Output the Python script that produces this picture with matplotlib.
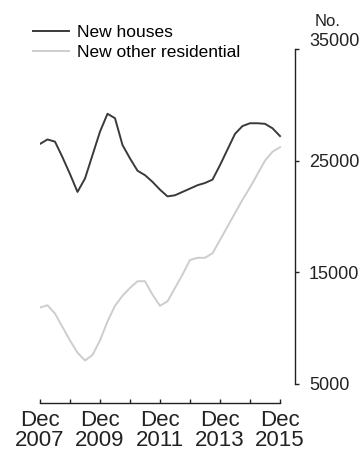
import numpy as np
import matplotlib.pyplot as plt
import matplotlib.transforms as mtransforms

plt.rcParams['font.family'] = ['Liberation Sans', 'DejaVu Sans']

# quarterly, Dec 2007 .. Dec 2015 (trend, number of dwellings)
quarter_index = np.arange(33)
new_houses = [26500, 26900, 26700, 25300, 23800, 22200, 23400, 25500, 27600,
              29200, 28800, 26400, 25200, 24100, 23700, 23100, 22400, 21800,
              21900, 22200, 22500, 22800, 23000, 23300, 24600, 26000, 27400,
              28100, 28350, 28350, 28300, 27900, 27200]
new_other = [11850, 12050, 11300, 10100, 8900, 7800, 7100, 7600, 8900,
             10600, 12000, 12900, 13600, 14200, 14200, 13000, 12000, 12400,
             13600, 14800, 16100, 16300, 16300, 16700, 17900, 19100, 20300,
             21500, 22600, 23800, 25000, 25800, 26200]
year_ticks = [2007, 2008, 2009, 2010, 2011, 2012, 2013, 2014, 2015]
year_labels = ["Dec\n2007", "", "Dec\n2009", "", "Dec\n2011", "",
               "Dec\n2013", "", "Dec\n2015"]
y_ticks = [5000, 15000, 25000, 35000]

t0 = 2007 + 11.5 / 12
x = t0 + quarter_index / 4
xt = [t0 + (y - 2007) for y in year_ticks]

fig = plt.figure(figsize=(3.64, 4.55), dpi=100)
ax = fig.add_axes([40 / 364, 52 / 455, 255 / 364, 354 / 455])

ax.plot(x, new_houses, color='#3a3a3a', lw=1.4, label='New houses',
        solid_joinstyle='round')
ax.plot(x, new_other, color='#cdcdcd', lw=1.4, label='New other residential',
        solid_joinstyle='round')

ax.set_xlim(t0, t0 + 8.5)
ax.set_ylim(5000 - 19 * 89.7, 35000)

ax.spines['left'].set_visible(False)
ax.spines['top'].set_visible(False)
ax.spines['right'].set_bounds(5000, 35000)
ax.spines['bottom'].set_bounds(xt[0], xt[-1])
for s in ('right', 'bottom'):
    ax.spines[s].set_linewidth(1.0)
    ax.spines[s].set_color('#222222')

ax.yaxis.tick_right()
ax.set_yticks(y_ticks)
ax.set_yticklabels([str(v) for v in y_ticks])
ax.tick_params(axis='y', direction='out', length=3, width=1, pad=7,
               labelsize=13, colors='#222222')
ax.set_xticks(xt)
ax.set_xticklabels(year_labels, linespacing=0.95)
ax.tick_params(axis='x', direction='in', length=3, width=1, pad=5,
               labelsize=16, colors='#222222')

# top label sits a little above its tick
top = ax.yaxis.get_major_ticks()[-1]
top.label2.set_transform(top.label2.get_transform() +
                         mtransforms.ScaledTranslation(0, 0.095, fig.dpi_scale_trans))

fig.text(328 / 364, 1 - 21 / 455, "No.", ha='center', va='center',
         fontsize=12, color='#222222')

ax.legend(loc='upper left', bbox_to_anchor=(33 / 364, 1 - 25 / 455),
          bbox_transform=fig.transFigure, frameon=False, fontsize=12.5,
          handlelength=2.1, handletextpad=0.45, labelspacing=0.25,
          borderpad=0, borderaxespad=0)

fig.savefig('out.png', dpi=100)
